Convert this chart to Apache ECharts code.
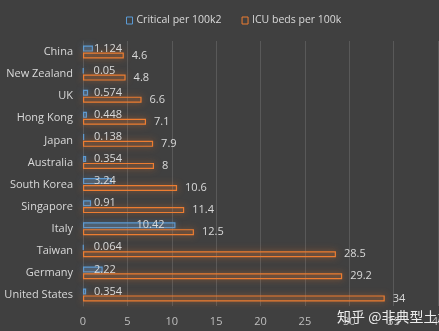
<!DOCTYPE html>
<html>
<head>
<meta charset="utf-8">
<script src="https://cdn.jsdelivr.net/npm/echarts@6/dist/echarts.min.js"></script>
<style>html,body{margin:0;padding:0;background:#404040;}#c{width:439px;height:331px;}</style>
</head>
<body>
<div id="c"></div>
<script>
const categories = ["China","New Zealand","UK","Hong Kong","Japan","Australia","South Korea","Singapore","Italy","Taiwan","Germany","United States"];
const critical = [1.124,0.05,0.574,0.448,0.138,0.354,3.24,0.91,10.42,0.064,2.22,0.354];
const icuBeds = [4.6,4.8,6.6,7.1,7.9,8,10.6,11.4,12.5,28.5,29.2,34];
const xTicks = {min:0,max:40,interval:5};
const seriesNames = ["Critical per 100k2","ICU beds per 100k"];

const chart = echarts.init(document.getElementById('c'), null, {renderer:'canvas'});
const font = '"Open Sans", "DejaVu Sans", sans-serif';
const blue = '#5B9BD5', orange = '#ED7D31';

const critData = critical.map(v => ({
  value: v,
  label: v > 5 ? {position:'insideRight', offset:[-6,0]} : {position:'insideLeft', offset:[6,0]}
}));

chart.setOption({
  backgroundColor:'#404040',
  animation:false,
  legend:{
    top:10, left:121, itemWidth:6, itemHeight:7, itemGap:20,
    textStyle:{color:'#d9d9d9', fontSize:10.5, fontFamily:font, padding:[0,0,0,-1]},
    data:[
      {name:seriesNames[0], icon:'rect', itemStyle:{color:'rgba(0,0,0,0)', borderColor:blue, borderWidth:1}},
      {name:seriesNames[1], icon:'rect', itemStyle:{color:'rgba(0,0,0,0)', borderColor:orange, borderWidth:1}}
    ]
  },
  grid:{left:83, right:1, top:41, bottom:25, containLabel:false, outerBoundsMode:'none'},
  xAxis:{
    type:'value', min:xTicks.min, max:xTicks.max, interval:xTicks.interval,
    axisLine:{show:false}, axisTick:{show:false},
    splitLine:{lineStyle:{color:'#595959', width:1}},
    axisLabel:{color:'#bfbfbf', fontSize:11, fontFamily:font, margin:10}
  },
  yAxis:{
    type:'category', data:categories, inverse:true,
    axisLine:{show:true, lineStyle:{color:'#595959'}}, axisTick:{show:false},
    axisLabel:{color:'#d9d9d9', fontSize:11, fontFamily:font, margin:10}
  },
  series:[
    {
      name:seriesNames[0], type:'bar', data:critData, barWidth:6, barGap:'15%',
      itemStyle:{color:'rgba(91,155,213,0.2)', borderColor:blue, borderWidth:1.2, shadowBlur:6, shadowColor:'rgba(91,155,213,0.6)'},
      label:{show:true, color:'#d9d9d9', fontSize:11, fontFamily:font}
    },
    {
      name:seriesNames[1], type:'bar', data:icuBeds, barWidth:6, barGap:'15%',
      itemStyle:{color:'rgba(237,125,49,0.08)', borderColor:orange, borderWidth:1.2, shadowBlur:7, shadowColor:'rgba(237,125,49,0.75)'},
      label:{show:true, position:'right', distance:8, color:'#d9d9d9', fontSize:11, fontFamily:font}
    }
  ],
  graphic:[
    {type:'text', left:337, top:310, z:100,
     style:{text:'知乎 @非典型土木', fill:'rgba(255,255,255,0.9)', font:'14px "Noto Sans CJK SC", sans-serif',
            shadowBlur:2, shadowColor:'rgba(0,0,0,0.6)'}}
  ]
});
</script>
</body>
</html>
